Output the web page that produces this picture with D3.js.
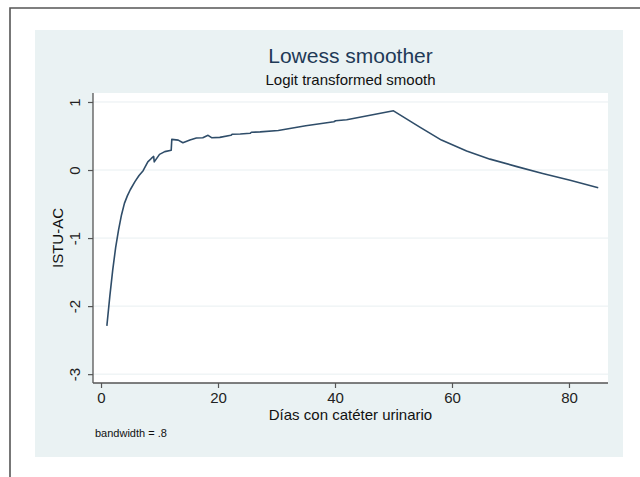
<!DOCTYPE html>
<html lang="en">
<head>
  <meta charset="UTF-8">
  <title>Lowess smoother</title>
  <script src="https://d3js.org/d3.v7.min.js"></script>
  <style>
    body { margin: 0; background: #fff; }
    svg { display: block; font-family: "Liberation Sans", Arial, sans-serif; }
  </style>
</head>
<body>
<svg width="640" height="477"></svg>
<script>
// lowess curve (days, logit smooth)
const days = [1, 1.5, 2, 2.5, 3, 3.5, 4, 4.5, 5, 5.8, 6.5, 7.2, 8, 8.6, 9, 9.1, 10, 10.9, 12, 12.1,
  13.2, 14, 15.2, 16.3, 17.4, 18.3, 18.9, 20.3, 22.2, 22.4, 23.8, 25.5, 25.7,
  27.2, 30.3, 35, 39.8, 40.1, 42, 50, 54.5, 58.2, 62.5, 66.5, 71.1, 75.5, 80.2, 85];
const smooth = [-2.29, -1.86, -1.47, -1.14, -0.88, -0.66, -0.49, -0.38, -0.29, -0.17, -0.08, -0.01, 0.12, 0.17,
  0.2, 0.12, 0.23, 0.27, 0.29, 0.45, 0.44, 0.40, 0.44, 0.47, 0.475, 0.51, 0.475,
  0.48, 0.51, 0.525, 0.53, 0.54, 0.555, 0.56, 0.58, 0.65, 0.71, 0.725, 0.74,
  0.87, 0.63, 0.44, 0.28, 0.16, 0.05, -0.05, -0.15, -0.26];
const xTicks = [0, 20, 40, 60, 80];
const yTicks = [-3, -2, -1, 0, 1];

const svg = d3.select("svg");
const plot = {left: 93, right: 608, top: 93, bottom: 383};

// outer frame (top + left edges visible)
svg.append("path")
  .attr("d", "M10,477 V8 H640")
  .attr("fill", "none")
  .attr("stroke", "#555")
  .attr("stroke-width", 1.6);

// graph region background
svg.append("rect")
  .attr("x", 35).attr("y", 30)
  .attr("width", 588).attr("height", 427)
  .attr("fill", "#eaf2f3");

svg.append("rect")
  .attr("x", plot.left).attr("y", plot.top)
  .attr("width", plot.right - plot.left).attr("height", plot.bottom - plot.top)
  .attr("fill", "#fff");

const x = d3.scaleLinear().domain([-1.37, 86.67]).range([plot.left, plot.right]);
const y = d3.scaleLinear().domain([-3.13, 1.132]).range([plot.bottom, plot.top]);

// grid
svg.append("g").selectAll("line")
  .data(yTicks)
  .join("line")
  .attr("x1", plot.left).attr("x2", plot.right)
  .attr("y1", d => y(d)).attr("y2", d => y(d))
  .attr("stroke", "#e8eff1")
  .attr("stroke-width", 1);

// axes (plain hyphen minus like Stata)
const fmt = d => String(d);
const xAxis = svg.append("g")
  .attr("transform", `translate(0,${plot.bottom})`)
  .call(d3.axisBottom(x).tickValues(xTicks).tickFormat(fmt)
    .tickSize(5).tickPadding(4).tickSizeOuter(0));
const yAxis = svg.append("g")
  .attr("transform", `translate(${plot.left},0)`)
  .call(d3.axisLeft(y).tickValues(yTicks).tickFormat(fmt)
    .tickSize(5).tickSizeOuter(0));

[xAxis, yAxis].forEach(a => {
  a.select(".domain").attr("stroke", "#555").attr("stroke-width", 1.3);
  a.selectAll(".tick line").attr("stroke", "#555").attr("stroke-width", 1.2);
  a.selectAll("text").attr("fill", "#222").style("font-size", "15px")
    .style("font-family", "'Liberation Sans', Arial, sans-serif");
});
// domain path should span whole plot region
xAxis.select(".domain").attr("d", `M${plot.left},0H${plot.right}`);
yAxis.select(".domain").attr("d", `M0,${plot.top}V${plot.bottom}`);

// rotated y tick labels
yAxis.selectAll(".tick text")
  .attr("x", null).attr("dy", null)
  .attr("transform", "translate(-13,0) rotate(-90)")
  .attr("text-anchor", "middle")
  .attr("y", 0);

// curve
const pts = days.map((d, i) => [d, smooth[i]]);
svg.append("path")
  .datum(pts)
  .attr("fill", "none")
  .attr("stroke", "#2f4d69")
  .attr("stroke-width", 1.6)
  .attr("stroke-linejoin", "round")
  .attr("d", d3.line().x(d => x(d[0])).y(d => y(d[1])));

// titles
const cx = (plot.left + plot.right) / 2;
svg.append("text")
  .attr("x", cx).attr("y", 63)
  .attr("text-anchor", "middle")
  .attr("fill", "#1f3a57")
  .style("font-size", "21px")
  .text("Lowess smoother");
svg.append("text")
  .attr("x", cx).attr("y", 85)
  .attr("text-anchor", "middle")
  .attr("fill", "#111")
  .style("font-size", "15px")
  .text("Logit transformed smooth");

svg.append("text")
  .attr("transform", `translate(63,${(plot.top + plot.bottom) / 2}) rotate(-90)`)
  .attr("text-anchor", "middle")
  .attr("fill", "#111")
  .style("font-size", "15px")
  .text("ISTU-AC");

svg.append("text")
  .attr("x", cx).attr("y", 420)
  .attr("text-anchor", "middle")
  .attr("fill", "#111")
  .style("font-size", "15px")
  .text("Días con catéter urinario");

svg.append("text")
  .attr("x", 95).attr("y", 437)
  .attr("fill", "#111")
  .style("font-size", "11px")
  .text("bandwidth = .8");
</script>
</body>
</html>
